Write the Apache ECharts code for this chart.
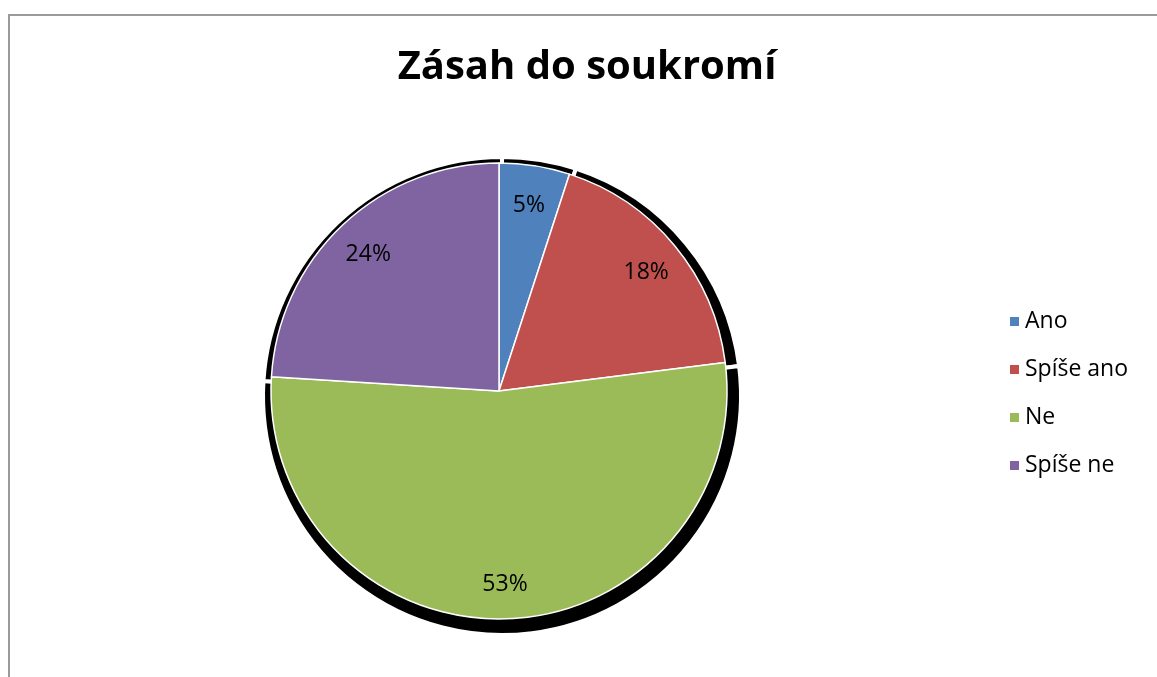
<!DOCTYPE html>
<html>
<head>
<meta charset="utf-8">
<script src="https://cdn.jsdelivr.net/npm/echarts@6/dist/echarts.min.js"></script>
<style>
    html, body { margin: 0; padding: 0; background: #fff; overflow: hidden; }
    #frame { position: absolute; left: 8px; top: 14px; width: 1200px; height: 720px; border-top: 2px solid #9a9a9a; border-left: 2px solid #9a9a9a; }
    #main { position: absolute; left: 0; top: 0; width: 1157px; height: 677px; }
</style>
</head>
<body>
<div id="frame"></div>
<div id="main"></div>
<script>
var titleText = 'Zásah do soukromí';
var categories = ['Ano', 'Spíše ano', 'Ne', 'Spíše ne'];
var values = [5, 18, 53, 24];
var colors = ['#4f81bd', '#c0504d', '#9bbb59', '#8064a2'];

var font = 'Open Sans';

var chart = echarts.init(document.getElementById('main'));
chart.setOption({
    animation: false,
    title: {
        text: titleText,
        left: 582,
        textAlign: 'center',
        top: 43,
        textStyle: {
            fontFamily: font,
            fontSize: 40,
            fontWeight: 'bold',
            color: '#000'
        }
    },
    legend: {
        data: categories,
        orient: 'vertical',
        left: 1003,
        top: 305,
        icon: 'rect',
        itemWidth: 11,
        itemHeight: 11,
        itemGap: 25,
        textStyle: {
            fontFamily: font,
            fontSize: 23,
            lineHeight: 23,
            color: '#000'
        }
    },
    series: [{
        name: 'pie',
        type: 'pie',
        z: 3,
        center: [499, 391],
        radius: [0, 228],
        startAngle: 90,
        clockwise: true,
        label: { show: false },
        labelLine: { show: false },
        itemStyle: {
            borderColor: '#fff',
            borderWidth: 1.5
        },
        data: categories.map(function(name, i) {
            return { name: name, value: values[i], itemStyle: { color: colors[i] } };
        })
    }, {
        // 阴影 (Excel风格的黑色阴影)
        name: 'shadow',
        type: 'pie',
        z: 1,
        center: [502, 396],
        radius: [0, 239],
        startAngle: 90,
        clockwise: true,
        silent: true,
        legendHoverLink: false,
        label: { show: false },
        labelLine: { show: false },
        itemStyle: {
            color: '#000',
            borderColor: '#fff',
            borderWidth: 4
        },
        data: categories.map(function(name, i) {
            return { name: 'shadow-' + name, value: values[i] };
        })
    }, {
        // 只用来放百分比标签
        name: 'labels',
        type: 'pie',
        z: 4,
        center: [499, 391],
        radius: [148, 228],
        startAngle: 90,
        clockwise: true,
        silent: true,
        legendHoverLink: false,
        itemStyle: { color: 'rgba(0,0,0,0)' },
        label: {
            show: true,
            position: 'inside',
            formatter: '{d}%',
            fontFamily: font,
            fontSize: 23,
            color: '#000',
            offset: [0, 3]
        },
        labelLine: { show: false },
        data: categories.map(function(name, i) {
            return { name: 'label-' + name, value: values[i] };
        })
    }]
});
</script>
</body>
</html>
